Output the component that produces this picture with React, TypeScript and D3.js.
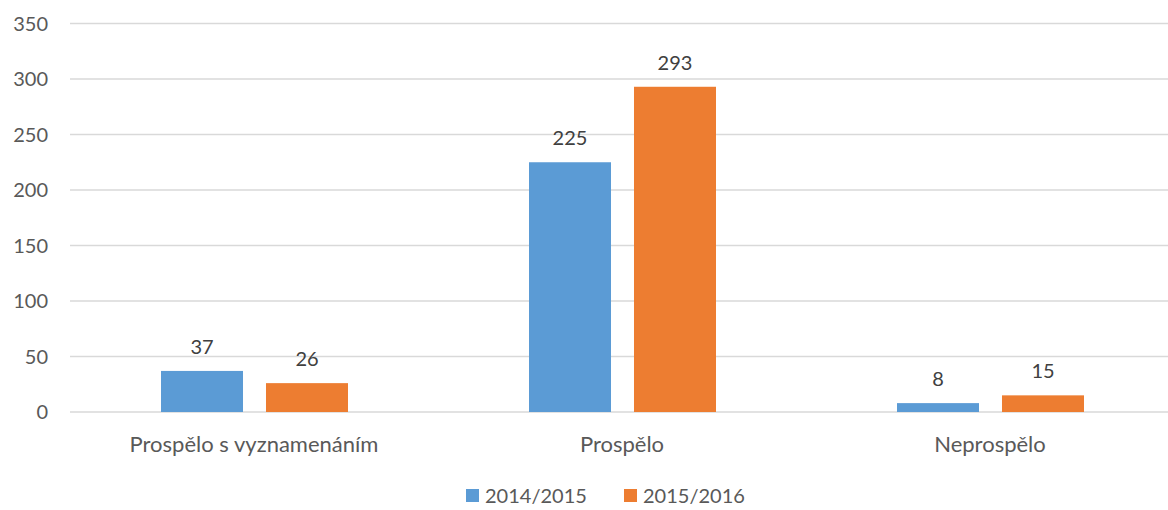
import React from 'react';
import * as d3 from 'd3';

const categories = ['Prospělo s vyznamenáním', 'Prospělo', 'Neprospělo'];
const seriesNames = ['2014/2015', '2015/2016'];
const values2014 = [37, 225, 8];
const values2015 = [26, 293, 15];
const yTicks = [0, 50, 100, 150, 200, 250, 300, 350];
const colors = ['#5B9BD5', '#ED7D31'];

const W = 1168;
const H = 510;
const FONT = 'Lato, "Open Sans", sans-serif';

const App = () => {
    const x = d3.scaleBand().domain(categories).range([70, 1174]).paddingInner(0).paddingOuter(0);
    // two bars of ~82px with a ~23px gap, centred in each category band
    const x1 = d3.scaleBand().domain(seriesNames).range([91, 278]).paddingInner(0.219);
    const y = d3.scaleLinear().domain([0, 350]).range([412, 23.5]);
    const series = [values2014, values2015];

    return (
        <svg width={W} height={H} style={{ position: 'absolute', left: 0, top: 0, background: '#fff' }} fontFamily={FONT}>
            {/* grid */}
            {yTicks.map(t => (
                <g key={t}>
                    <line x1={70} x2={W} y1={y(t)} y2={y(t)} stroke="#d9d9d9" strokeWidth={1.3} />
                    <text x={48} y={y(t)} dy="0.35em" textAnchor="end" fontSize={20} fill="#595959">{t}</text>
                </g>
            ))}
            {/* bars */}
            {categories.map((c, ci) => (
                <g key={c} transform={`translate(${x(c)},0)`}>
                    {series.map((vals, si) => (
                        <g key={si}>
                            <rect x={x1(seriesNames[si])} y={y(vals[ci])} width={x1.bandwidth()}
                                height={y(0) - y(vals[ci])} fill={colors[si]} />
                            <text x={(x1(seriesNames[si]) || 0) + x1.bandwidth() / 2} y={y(vals[ci]) - 17}
                                textAnchor="middle" fontSize={20} fill="#404040">{vals[ci]}</text>
                        </g>
                    ))}
                    <text x={x.bandwidth() / 2} y={452} textAnchor="middle" fontSize={22} fill="#595959">{c}</text>
                </g>
            ))}
            {/* legend */}
            {seriesNames.map((s, i) => (
                <g key={s} transform={`translate(${466 + i * 158},489)`}>
                    <rect x={0} y={0} width={13} height={13} fill={colors[i]} />
                    <text x={19} y={14} fontSize={20} fill="#595959">{s}</text>
                </g>
            ))}
        </svg>
    );
};

export default App;
